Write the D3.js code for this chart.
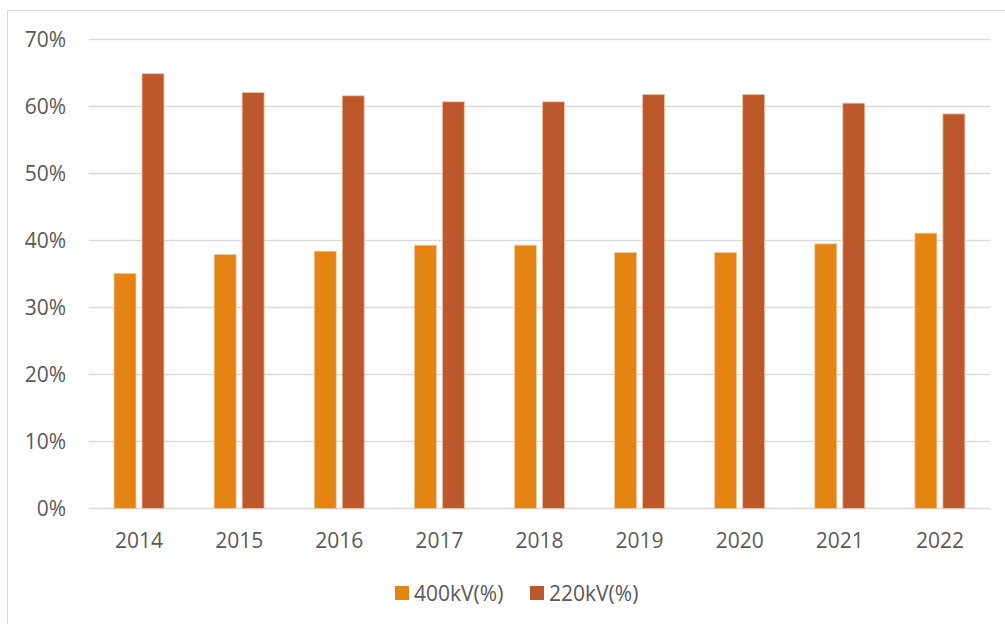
<!DOCTYPE html>
<html>
<head>
<meta charset="utf-8">
<script src="https://cdn.jsdelivr.net/npm/d3@7"></script>
<style>
  html, body { margin: 0; padding: 0; background: #fff; }
  svg { display: block; }
  text { font-family: "Open Sans", "Liberation Sans", sans-serif; fill: #595959; }
</style>
</head>
<body>
<svg id="chart" width="1005" height="624"></svg>
<script>
// Share of transmission network by voltage level, per year
const years = ["2014", "2015", "2016", "2017", "2018", "2019", "2020", "2021", "2022"];
const share400 = [35.1, 37.9, 38.4, 39.3, 39.3, 38.2, 38.2, 39.5, 41.1];
const share220 = [64.9, 62.1, 61.6, 60.7, 60.7, 61.8, 61.8, 60.5, 58.9];
const seriesNames = ["400kV(%)", "220kV(%)"];
const yTicks = [0, 10, 20, 30, 40, 50, 60, 70];

const colors = ["#E48413", "#BD582C"];
const svg = d3.select("#chart");

// chart frame
svg.append("rect")
  .attr("x", 7.5).attr("y", 10.5)
  .attr("width", 1010).attr("height", 630)
  .attr("fill", "#fff").attr("stroke", "#d9d9d9").attr("stroke-width", 1);

const plot = { left: 89, right: 990, top: 39.5, bottom: 508.5 };

const x = d3.scaleBand().domain(years).range([plot.left, plot.right]).paddingInner(0).paddingOuter(0);
const inner = d3.scaleBand().domain([0, 1]).range([25, 75]).paddingInner(0.214);
const y = d3.scaleLinear().domain([0, 70]).range([plot.bottom, plot.top]);

// gridlines
svg.append("g")
  .selectAll("line")
  .data(yTicks)
  .join("line")
  .attr("x1", plot.left).attr("x2", plot.right)
  .attr("y1", d => y(d)).attr("y2", d => y(d))
  .attr("stroke", "#d9d9d9").attr("stroke-width", 1.3);

// y axis labels
const yAxis = d3.axisLeft(y).tickValues(yTicks).tickFormat(d => d + "%").tickSize(0).tickPadding(23);
const gy = svg.append("g").attr("transform", `translate(${plot.left},0)`).call(yAxis);
gy.select(".domain").remove();
gy.selectAll("text").attr("font-size", 21).style("fill", "#595959")
  .style("font-family", "'Open Sans', sans-serif");

// x axis labels
const xAxis = d3.axisBottom(x).tickSize(0).tickPadding(25);
const gx = svg.append("g").attr("transform", `translate(0,${plot.bottom})`).call(xAxis);
gx.select(".domain").remove();
gx.selectAll("text").attr("font-size", 21).style("fill", "#595959")
  .style("font-family", "'Open Sans', sans-serif");

// bars
const series = [share400, share220];
series.forEach((vals, si) => {
  svg.append("g")
    .selectAll("rect")
    .data(vals)
    .join("rect")
    .attr("x", (d, i) => x(years[i]) + inner(si))
    .attr("y", d => y(d))
    .attr("width", inner.bandwidth())
    .attr("height", d => y(0) - y(d))
    .attr("fill", colors[si])
    .attr("stroke", "#f3c7a8").attr("stroke-width", 0.8);
});

// legend
const legendItems = [{ x: 395 }, { x: 530 }];
const lg = svg.append("g");
seriesNames.forEach((name, i) => {
  const g = lg.append("g").attr("transform", `translate(${legendItems[i].x},586)`);
  g.append("rect").attr("width", 14).attr("height", 14).attr("fill", colors[i]);
  g.append("text").attr("x", 19).attr("y", 15).attr("font-size", 21).text(name);
});
</script>
</body>
</html>
